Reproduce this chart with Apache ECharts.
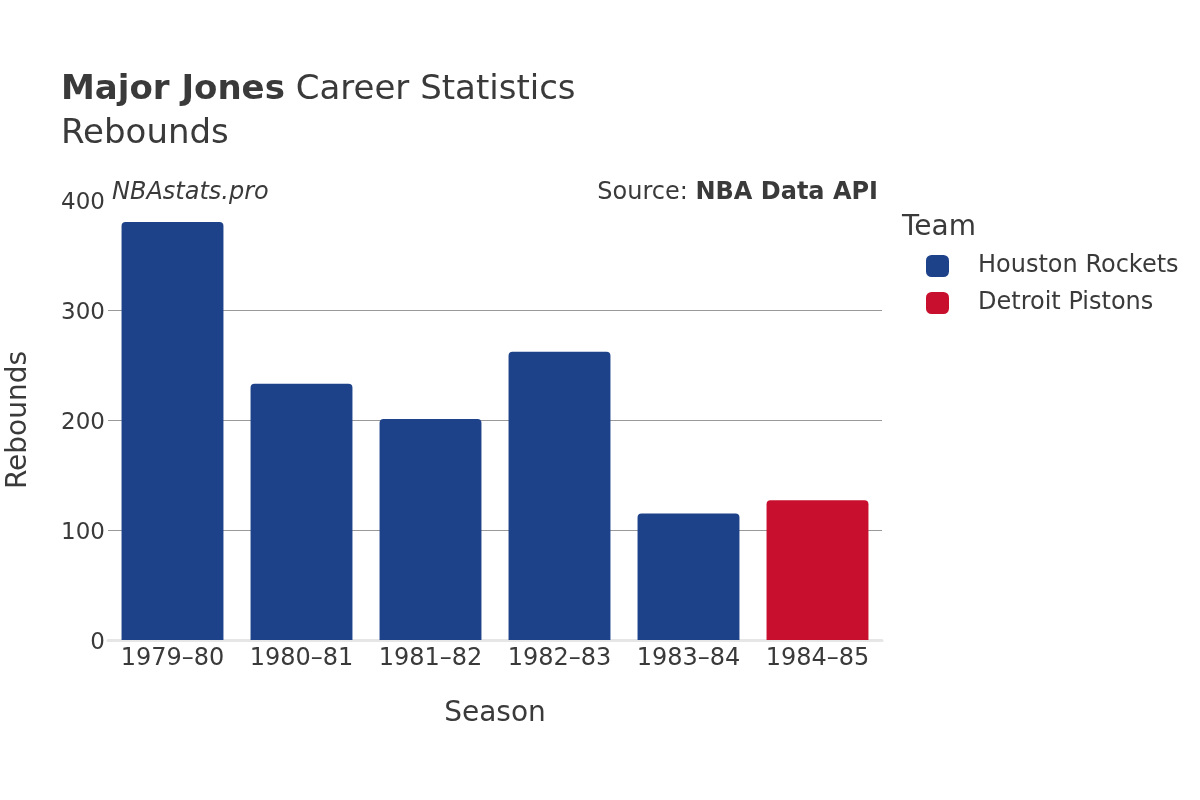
<!DOCTYPE html>
<html>
<head>
<meta charset="utf-8">
<script src="https://cdn.jsdelivr.net/npm/echarts@6/dist/echarts.min.js"></script>
<style>html,body{margin:0;padding:0;background:#fff}#c{width:1200px;height:800px}</style>
</head>
<body>
<div id="c"></div>
<script>
const seasons = ['1979–80','1980–81','1981–82','1982–83','1983–84','1984–85'];
const houstonRockets = [380, 233, 201, 262, 115, '-'];
const detroitPistons = ['-', '-', '-', '-', '-', 127];
const yTicks = [0, 100, 200, 300, 400];
const teamNames = ['Houston Rockets', 'Detroit Pistons'];
const teamColors = ['#1d428a', '#c8102e'];

const font = 'DejaVu Sans';
const txt = '#3a3a3a';
const chart = echarts.init(document.getElementById('c'), null, {renderer: 'canvas'});
chart.setOption({
  backgroundColor: '#fff',
  animation: false,
  textStyle: {fontFamily: font, color: txt},
  title: [{
    left: 61, top: 68, padding: 0,
    text: '{b|Major Jones} Career Statistics\nRebounds',
    textStyle: {
      fontFamily: font, fontSize: 34, color: txt, fontWeight: 'normal', lineHeight: 44,
      rich: {b: {fontFamily: font, fontSize: 34, fontWeight: 'bold', color: txt, lineHeight: 44}}
    }
  }, {
    left: 112, top: 181, padding: 0,
    text: 'NBAstats.pro',
    textStyle: {fontFamily: font, fontSize: 24, fontStyle: 'italic', fontWeight: 'normal', color: txt}
  }, {
    right: 322, top: 181, padding: 0,
    text: 'Source: {b|NBA Data API}',
    textStyle: {fontFamily: font, fontSize: 24, fontWeight: 'normal', color: txt,
      rich: {b: {fontFamily: font, fontSize: 24, fontWeight: 'bold', color: txt}}}
  }, {
    left: 902, top: 214, padding: 0,
    text: 'Team',
    textStyle: {fontFamily: font, fontSize: 28, fontWeight: 'normal', color: txt}
  }],
  legend: {
    orient: 'vertical',
    left: 921, top: 249,
    itemWidth: 23, itemHeight: 22, itemGap: 13,
    icon: 'roundRect',
    data: teamNames,
    textStyle: {fontFamily: font, fontSize: 24, color: txt, padding: [0, 0, 0, 24]}
  },
  grid: {left: 108, right: 318, top: 200, bottom: 160, containLabel: false, outerBoundsMode: 'none'},
  xAxis: {
    type: 'category',
    data: seasons,
    name: 'Season',
    nameLocation: 'middle',
    nameGap: 60,
    nameTextStyle: {fontFamily: font, fontSize: 28, color: txt},
    axisLine: {show: true, lineStyle: {color: '#e6e6e6', width: 3}},
    axisTick: {show: false},
    axisLabel: {fontFamily: font, fontSize: 24, color: txt, margin: 7, interval: 0, hideOverlap: false}
  },
  yAxis: {
    type: 'value',
    min: yTicks[0], max: yTicks[yTicks.length - 1], interval: 100,
    name: 'Rebounds',
    nameLocation: 'middle',
    nameGap: 75,
    nameTextStyle: {fontFamily: font, fontSize: 28, color: txt},
    axisLine: {show: false},
    axisTick: {show: false},
    axisLabel: {fontFamily: font, fontSize: 23, color: txt, margin: 3,
      formatter: '{v|{value}}',
      rich: {v: {fontFamily: font, fontSize: 23, color: txt, padding: [6, 0, 0, 0]}}},
    splitLine: {show: true, showMinLine: false, showMaxLine: false, lineStyle: {color: '#999', width: 1}}
  },
  series: [{
    name: teamNames[0], type: 'bar', stack: 'a',
    data: houstonRockets,
    barCategoryGap: '21%',
    itemStyle: {color: teamColors[0], borderRadius: [4, 4, 0, 0]}
  }, {
    name: teamNames[1], type: 'bar', stack: 'a',
    data: detroitPistons,
    barCategoryGap: '21%',
    itemStyle: {color: teamColors[1], borderRadius: [4, 4, 0, 0]}
  }]
});
</script>
</body>
</html>
